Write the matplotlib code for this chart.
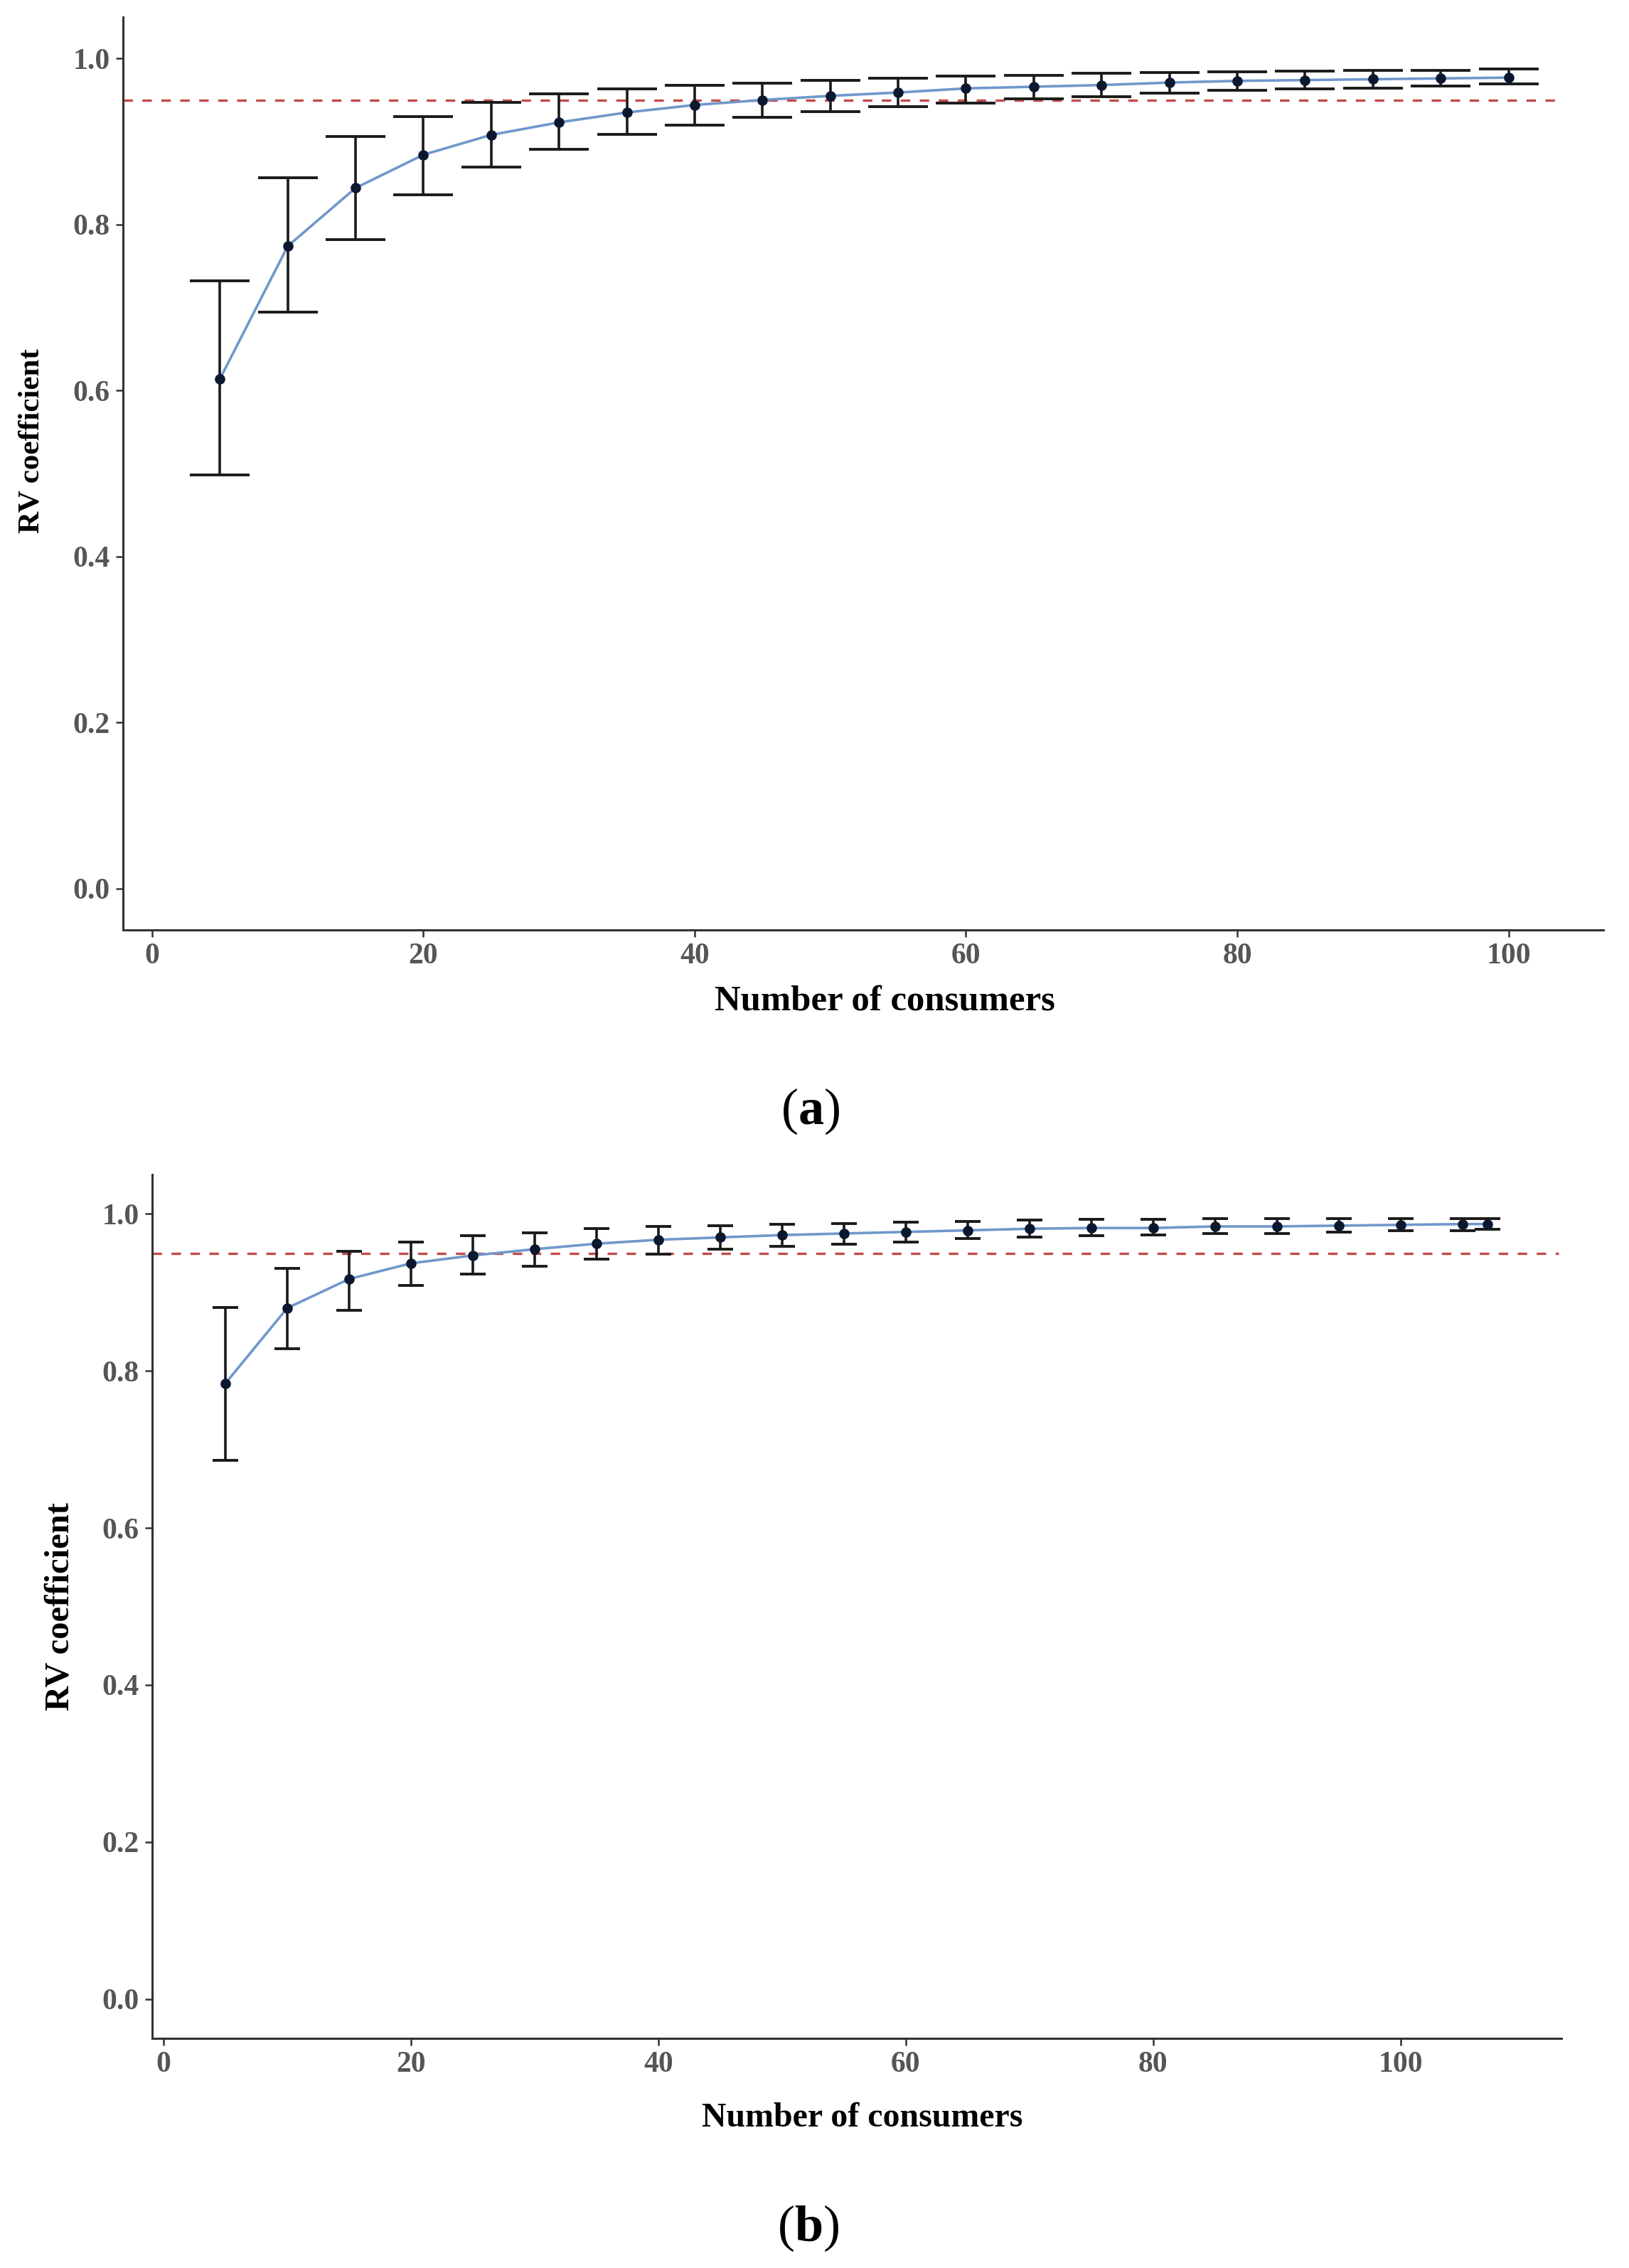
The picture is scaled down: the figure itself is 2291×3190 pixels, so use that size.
import matplotlib.pyplot as plt
import numpy as np

plt.rcParams['font.family'] = ['Liberation Serif', 'DejaVu Serif']
plt.rcParams['mathtext.fontset'] = 'custom'
plt.rcParams['mathtext.rm'] = 'Liberation Serif'
plt.rcParams['mathtext.bf'] = 'Liberation Serif:bold'

# panel (a)
n_a = [5, 10, 15, 20, 25, 30, 35, 40, 45, 50, 55, 60, 65, 70, 75, 80, 85, 90, 95, 100]
rv_a = [0.614, 0.774, 0.844, 0.884, 0.908, 0.923, 0.935, 0.944, 0.950, 0.955,
        0.959, 0.964, 0.966, 0.968, 0.971, 0.973, 0.974, 0.975, 0.976, 0.977]
lo_a = [0.498, 0.694, 0.782, 0.836, 0.869, 0.891, 0.909, 0.920, 0.929, 0.936,
        0.942, 0.946, 0.951, 0.954, 0.958, 0.962, 0.963, 0.964, 0.967, 0.969]
hi_a = [0.732, 0.856, 0.906, 0.930, 0.947, 0.957, 0.963, 0.968, 0.970, 0.974,
        0.976, 0.979, 0.980, 0.982, 0.983, 0.984, 0.985, 0.986, 0.986, 0.987]

# panel (b)
n_b = [5, 10, 15, 20, 25, 30, 35, 40, 45, 50, 55, 60, 65, 70, 75, 80, 85, 90, 95, 100, 105, 107]
rv_b = [0.784, 0.880, 0.917, 0.937, 0.947, 0.955, 0.962, 0.967, 0.970, 0.973, 0.975,
        0.977, 0.979, 0.981, 0.982, 0.982, 0.984, 0.984, 0.985, 0.986, 0.987, 0.987]
lo_b = [0.686, 0.828, 0.877, 0.909, 0.923, 0.933, 0.942, 0.949, 0.955, 0.959, 0.961,
        0.964, 0.969, 0.970, 0.972, 0.973, 0.975, 0.975, 0.977, 0.979, 0.979, 0.980]
hi_b = [0.881, 0.931, 0.952, 0.964, 0.972, 0.976, 0.981, 0.984, 0.985, 0.987, 0.988,
        0.989, 0.990, 0.992, 0.993, 0.993, 0.994, 0.994, 0.994, 0.994, 0.994, 0.994]

threshold = 0.95
yticks = [0.0, 0.2, 0.4, 0.6, 0.8, 1.0]
xticks = [0, 20, 40, 60, 80, 100]

fig = plt.figure(figsize=(22.91, 31.90), dpi=100)
ax_a = fig.add_axes([0.0755, 0.5900, 0.9088, 0.4025])
ax_b = fig.add_axes([0.0934, 0.1013, 0.8651, 0.3808])


def draw(ax, n, rv, lo, hi, xlim, cap, hline_end):
    n = np.array(n)
    rv = np.array(rv)
    err = [rv - np.array(lo), np.array(hi) - rv]
    ax.hlines(threshold, xlim[0], hline_end, colors='#c44a48', linestyles=(0, (4, 4)),
              linewidth=2.4, zorder=1)
    ax.plot(n, rv, color='#6f98cc', linewidth=2.6, zorder=2)
    ax.errorbar(n, rv, yerr=err, fmt='none', ecolor='#1a1a1a', elinewidth=2.6,
                capsize=cap, capthick=2.8, zorder=3)
    ax.plot(n, rv, 'o', color='#0c1830', markersize=9.5, zorder=4)
    ax.set_xlim(*xlim)
    ax.set_ylim(-0.05, 1.05)
    ax.set_yticks(yticks)
    ax.set_yticklabels(['%.1f' % t for t in yticks])
    ax.set_xticks(xticks)
    for s in ['top', 'right']:
        ax.spines[s].set_visible(False)
    for s in ['left', 'bottom']:
        ax.spines[s].set_linewidth(2.2)
        ax.spines[s].set_color('#333333')
    ax.tick_params(length=7, width=1.8, color='#333333', labelcolor='#555555',
                   labelsize=30, pad=6)
    for lab in ax.get_xticklabels() + ax.get_yticklabels():
        lab.set_fontweight('bold')


draw(ax_a, n_a, rv_a, lo_a, hi_a, (-2.15, 107.0), 30, 104)
draw(ax_b, n_b, rv_b, lo_b, hi_b, (-0.92, 113.0), 13, 112.8)

fig.text(0.5434, 0.5586, 'Number of consumers', ha='center', va='center',
         fontsize=36.5, fontweight='bold')
fig.text(0.0196, 0.8056, 'RV coefficient', ha='center', va='center', rotation=90,
         fontsize=31, fontweight='bold')
fig.text(0.5295, 0.0661, 'Number of consumers', ha='center', va='center',
         fontsize=34.5, fontweight='bold')
fig.text(0.037, 0.2918, 'RV coefficient', ha='center', va='center', rotation=90,
         fontsize=35, fontweight='bold')

fig.text(0.4976, 0.510, r'($\mathbf{a}$)', ha='center', va='center', fontsize=52)
fig.text(0.496, 0.0176, r'($\mathbf{b}$)', ha='center', va='center', fontsize=52)

plt.savefig('out.png', dpi=100)
